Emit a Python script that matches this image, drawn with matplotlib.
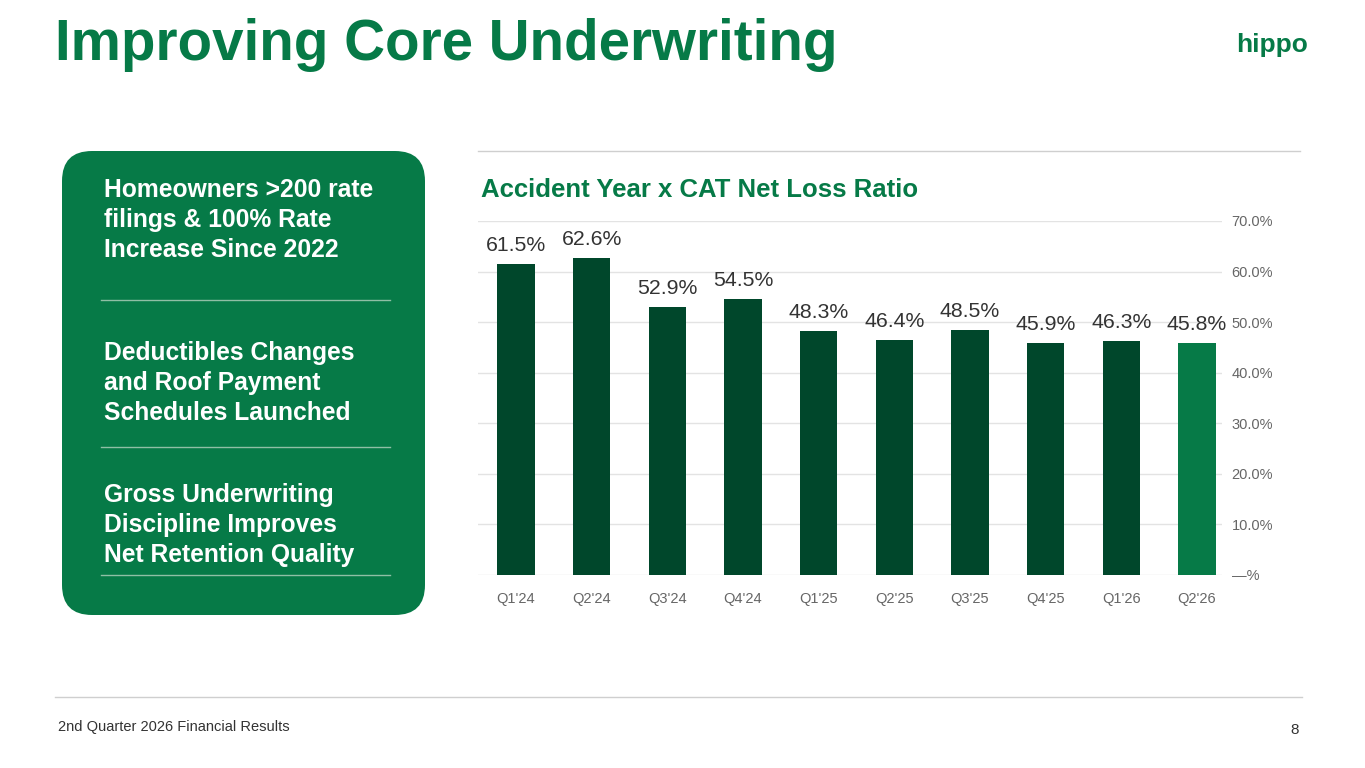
import matplotlib
matplotlib.use("Agg")
import matplotlib.pyplot as plt
from matplotlib.patches import FancyBboxPatch
from matplotlib.lines import Line2D

categories = ["Q1'24", "Q2'24", "Q3'24", "Q4'24", "Q1'25", "Q2'25", "Q3'25", "Q4'25", "Q1'26", "Q2'26"]
values = [61.5, 62.6, 52.9, 54.5, 48.3, 46.4, 48.5, 45.9, 46.3, 45.8]
yticks = [0, 10, 20, 30, 40, 50, 60, 70]
ytick_labels = ["—%", "10.0%", "20.0%", "30.0%", "40.0%", "50.0%", "60.0%", "70.0%"]
bullets = ["Homeowners >200 rate\nfilings & 100% Rate\nIncrease Since 2022",
           "Deductibles Changes\nand Roof Payment\nSchedules Launched",
           "Gross Underwriting\nDiscipline Improves\nNet Retention Quality"]

plt.rcParams['font.family'] = ['Liberation Sans', 'DejaVu Sans']
GREEN = "#067A47"
DARK = "#00472B"
W, H = 1365, 768
fig = plt.figure(figsize=(13.65, 7.68), dpi=100)

def fx(x): return x / W
def fy(y): return 1 - y / H

fig.text(fx(55), fy(45), "Improving Core Underwriting", color=GREEN, fontsize=40.7, fontweight='bold', va='center')
fig.text(fx(1308), fy(45), "hippo", color=GREEN, fontsize=19, fontweight='bold', va='center', ha='right')

box = FancyBboxPatch((fx(62), fy(615)), fx(425) - fx(62), fy(151) - fy(615),
                     boxstyle="round,pad=0,rounding_size=0.022", transform=fig.transFigure,
                     facecolor=GREEN, edgecolor='none', mutation_aspect=W / H)
fig.patches.append(box)
for t, y in zip(bullets, [220, 383, 525]):
    fig.text(fx(104), fy(y), t, color='white', fontsize=17.7, fontweight='bold', va='center', linespacing=1.32)
for y in [300, 447, 575]:
    fig.add_artist(Line2D([fx(101), fx(390)], [fy(y), fy(y)], color="#8FBFA5", lw=1, transform=fig.transFigure))

fig.add_artist(Line2D([fx(478), fx(1300)], [fy(151), fy(151)], color="#CFCFCF", lw=1, transform=fig.transFigure))
fig.add_artist(Line2D([fx(55), fx(1302)], [fy(697), fy(697)], color="#CFCFCF", lw=1, transform=fig.transFigure))
fig.text(fx(481), fy(190), "Accident Year x CAT Net Loss Ratio", color=GREEN, fontsize=18.5, fontweight='bold', va='center')

ax = fig.add_axes([fx(478), fy(575), fx(1222) - fx(478), fy(221) - fy(575)])
colors = [DARK] * (len(values) - 1) + [GREEN]
x = range(len(values))
ax.bar(x, values, width=0.49, color=colors, zorder=3)
for i, v in zip(x, values):
    ax.text(i, v + 1.8, f"{v:.1f}%", ha='center', va='bottom', fontsize=15.3, color='#333333')
ax.set_xlim(-0.502, 9.33)
ax.set_ylim(0, 70)
ax.set_yticks(yticks)
ax.set_yticklabels(ytick_labels)
ax.yaxis.tick_right()
ax.set_xticks(list(x))
ax.set_xticklabels(categories)
ax.tick_params(length=0, labelsize=10.5, colors='#666666')
ax.tick_params(axis='x', pad=12)
ax.tick_params(axis='y', pad=7)
ax.grid(axis='y', color='#E3E3E3', lw=1, zorder=0)
for s in ax.spines.values():
    s.set_visible(False)
ax.set_facecolor('none')

fig.text(fx(58), fy(727), "2nd Quarter 2026 Financial Results", fontsize=10.5, color='#333333', va='center')
fig.text(fx(1299), fy(730), "8", fontsize=11, color='#333333', va='center', ha='right')

fig.savefig("out.png", dpi=100)
